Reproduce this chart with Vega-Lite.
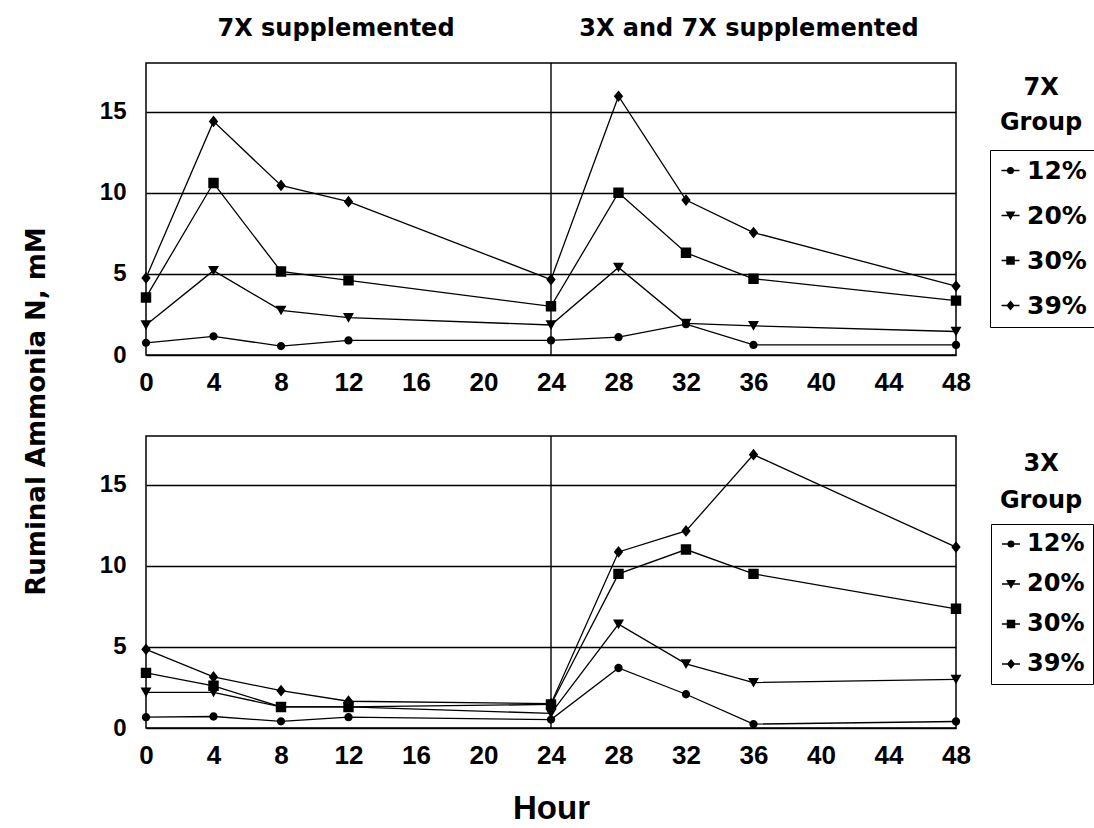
{
  "$schema": "https://vega.github.io/schema/vega-lite/v6.json",
  "background": "white",
  "autosize": {"type": "pad"},
  "padding": {"left": 22, "top": 16, "right": 2, "bottom": 0},
  "bounds": "flush",
  "spacing": 81,
  "config": {
    "font": "DejaVu Sans",
    "view": {"stroke": "black", "strokeWidth": 1.5},
    "axis": {"labelColor": "black", "titleColor": "black", "ticks": false, "tickSize": 0, "domain": false, "labelFont": "Liberation Sans", "labelFontWeight": "bold"},
    "text": {"font": "DejaVu Sans", "fontWeight": "bold", "color": "black"}
  },
  "resolve": {"scale": {"shape": "independent", "color": "independent"}, "legend": {"shape": "independent", "color": "independent"}},
  "datasets": {
    "sevenX": [
      {"hour": 0, "level": "12%", "value": 0.75}, {"hour": 4, "level": "12%", "value": 1.15}, {"hour": 8, "level": "12%", "value": 0.55}, {"hour": 12, "level": "12%", "value": 0.9}, {"hour": 24, "level": "12%", "value": 0.9}, {"hour": 28, "level": "12%", "value": 1.1}, {"hour": 32, "level": "12%", "value": 1.9}, {"hour": 36, "level": "12%", "value": 0.62}, {"hour": 48, "level": "12%", "value": 0.62},
      {"hour": 0, "level": "20%", "value": 1.85}, {"hour": 4, "level": "20%", "value": 5.2}, {"hour": 8, "level": "20%", "value": 2.75}, {"hour": 12, "level": "20%", "value": 2.3}, {"hour": 24, "level": "20%", "value": 1.85}, {"hour": 28, "level": "20%", "value": 5.4}, {"hour": 32, "level": "20%", "value": 1.95}, {"hour": 36, "level": "20%", "value": 1.8}, {"hour": 48, "level": "20%", "value": 1.45},
      {"hour": 0, "level": "30%", "value": 3.55}, {"hour": 4, "level": "30%", "value": 10.6}, {"hour": 8, "level": "30%", "value": 5.15}, {"hour": 12, "level": "30%", "value": 4.6}, {"hour": 24, "level": "30%", "value": 3.0}, {"hour": 28, "level": "30%", "value": 10.0}, {"hour": 32, "level": "30%", "value": 6.3}, {"hour": 36, "level": "30%", "value": 4.7}, {"hour": 48, "level": "30%", "value": 3.35},
      {"hour": 0, "level": "39%", "value": 4.75}, {"hour": 4, "level": "39%", "value": 14.4}, {"hour": 8, "level": "39%", "value": 10.45}, {"hour": 12, "level": "39%", "value": 9.45}, {"hour": 24, "level": "39%", "value": 4.65}, {"hour": 28, "level": "39%", "value": 15.95}, {"hour": 32, "level": "39%", "value": 9.55}, {"hour": 36, "level": "39%", "value": 7.55}, {"hour": 48, "level": "39%", "value": 4.25}
    ],
    "threeX": [
      {"hour": 0, "level": "12%", "value": 0.67}, {"hour": 4, "level": "12%", "value": 0.71}, {"hour": 8, "level": "12%", "value": 0.41}, {"hour": 12, "level": "12%", "value": 0.67}, {"hour": 24, "level": "12%", "value": 0.52}, {"hour": 28, "level": "12%", "value": 3.7}, {"hour": 32, "level": "12%", "value": 2.08}, {"hour": 36, "level": "12%", "value": 0.24}, {"hour": 48, "level": "12%", "value": 0.4},
      {"hour": 0, "level": "20%", "value": 2.2}, {"hour": 4, "level": "20%", "value": 2.2}, {"hour": 8, "level": "20%", "value": 1.3}, {"hour": 12, "level": "20%", "value": 1.3}, {"hour": 24, "level": "20%", "value": 0.9}, {"hour": 28, "level": "20%", "value": 6.4}, {"hour": 32, "level": "20%", "value": 3.95}, {"hour": 36, "level": "20%", "value": 2.8}, {"hour": 48, "level": "20%", "value": 3.0},
      {"hour": 0, "level": "30%", "value": 3.4}, {"hour": 4, "level": "30%", "value": 2.6}, {"hour": 8, "level": "30%", "value": 1.3}, {"hour": 12, "level": "30%", "value": 1.3}, {"hour": 24, "level": "30%", "value": 1.45}, {"hour": 28, "level": "30%", "value": 9.5}, {"hour": 32, "level": "30%", "value": 11.0}, {"hour": 36, "level": "30%", "value": 9.5}, {"hour": 48, "level": "30%", "value": 7.35},
      {"hour": 0, "level": "39%", "value": 4.85}, {"hour": 4, "level": "39%", "value": 3.15}, {"hour": 8, "level": "39%", "value": 2.3}, {"hour": 12, "level": "39%", "value": 1.65}, {"hour": 24, "level": "39%", "value": 1.5}, {"hour": 28, "level": "39%", "value": 10.85}, {"hour": 32, "level": "39%", "value": 12.15}, {"hour": 36, "level": "39%", "value": 16.85}, {"hour": 48, "level": "39%", "value": 11.15}
    ]
  },
  "vconcat": [
    {
      "width": 810,
      "height": 292,
      "layer": [
        {"data": {"values": [{}]}, "mark": {"type": "rule", "color": "black", "strokeWidth": 1.4}, "encoding": {"x": {"datum": 24, "type": "quantitative"}}},
        {
          "data": {"name": "sevenX"},
          "mark": {"type": "line", "strokeWidth": 1.3},
          "encoding": {
            "x": {"field": "hour", "type": "quantitative", "scale": {"domain": [0, 48], "nice": false, "zero": false},
                  "axis": {"values": [0, 4, 8, 12, 16, 20, 24, 28, 32, 36, 40, 44, 48], "grid": false, "title": null, "labelFontSize": 26, "labelPadding": 14, "labelFlush": false}},
            "y": {"field": "value", "type": "quantitative", "scale": {"domain": [0, 18], "nice": false},
                  "axis": {"values": [0, 5, 10, 15], "grid": true, "gridColor": "black", "gridWidth": 1.3, "gridOpacity": 1, "labelFontSize": 24, "labelPadding": 20,
                           "title": "Ruminal Ammonia N, mM", "titleFont": "DejaVu Sans", "titleFontSize": 26, "titleFontWeight": "bold",
                           "titleX": -110, "titleY": 348, "titleAngle": -90, "titleAlign": "center", "titleBaseline": "middle"}},
            "color": {
              "field": "level", "type": "nominal",
              "scale": {"domain": ["12%", "20%", "30%", "39%"], "range": ["black", "black", "black", "black"]},
              "legend": {
                "orient": "none", "legendX": 844, "legendY": 87, "title": null,
                "strokeColor": "black", "padding": 8, "rowPadding": 19,
                "labelFont": "DejaVu Sans", "labelFontWeight": "bold", "labelFontSize": 25, "labelColor": "black", "labelOffset": 4,
                "symbolSize": 324, "symbolStrokeWidth": 1.3, "symbolType": "stroke"
              }
            }
          }
        },
        {
          "data": {"name": "sevenX"},
          "mark": {"type": "point", "filled": true, "color": "black", "size": 680, "opacity": 1, "strokeWidth": 0},
          "encoding": {
            "x": {"field": "hour", "type": "quantitative"},
            "y": {"field": "value", "type": "quantitative"},
            "shape": {
              "field": "level", "type": "nominal",
              "scale": {"domain": ["12%", "20%", "30%", "39%"],
                        "range": ["M-1,0L1,0M0.32,0A0.32,0.32,0,1,1,-0.32,0A0.32,0.32,0,1,1,0.32,0Z",
                                  "M-1,0L1,0M-0.42,-0.36L0.42,-0.36L0,0.38Z",
                                  "M-1,0L1,0M-0.4,-0.4L0.4,-0.4L0.4,0.4L-0.4,0.4Z",
                                  "M-1,0L1,0M0,-0.45L0.36,0L0,0.45L-0.36,0Z"]},
              "legend": {
                "orient": "none", "legendX": 844, "legendY": 87, "title": null,
                "strokeColor": "black", "padding": 8, "rowPadding": 19,
                "labelFont": "DejaVu Sans", "labelFontWeight": "bold", "labelFontSize": 25, "labelColor": "black", "labelOffset": 4,
                "symbolSize": 324, "symbolStrokeColor": "black", "symbolStrokeWidth": 1.3, "symbolFillColor": "black"
              }
            }
          }
        },
        {"data": {"values": [{}]}, "mark": {"type": "text", "fontSize": 24, "baseline": "middle", "align": "center"},
         "encoding": {"x": {"datum": 11.26, "type": "quantitative"}, "y": {"datum": 20.1, "type": "quantitative"}, "text": {"value": "7X supplemented"}}},
        {"data": {"values": [{}]}, "mark": {"type": "text", "fontSize": 24, "baseline": "middle", "align": "center"},
         "encoding": {"x": {"datum": 35.73, "type": "quantitative"}, "y": {"datum": 20.1, "type": "quantitative"}, "text": {"value": "3X and 7X supplemented"}}},
        {"data": {"values": [{}]}, "mark": {"type": "text", "fontSize": 24, "baseline": "middle", "align": "center", "lineHeight": 35},
         "encoding": {"x": {"datum": 53.04, "type": "quantitative"}, "y": {"datum": 16.48, "type": "quantitative"}, "text": {"value": ["7X", "Group"]}}}
      ]
    },
    {
      "width": 810,
      "height": 292,
      "layer": [
        {"data": {"values": [{}]}, "mark": {"type": "rule", "color": "black", "strokeWidth": 1.4}, "encoding": {"x": {"datum": 24, "type": "quantitative"}}},
        {
          "data": {"name": "threeX"},
          "mark": {"type": "line", "strokeWidth": 1.3},
          "encoding": {
            "x": {"field": "hour", "type": "quantitative", "scale": {"domain": [0, 48], "nice": false, "zero": false},
                  "axis": {"values": [0, 4, 8, 12, 16, 20, 24, 28, 32, 36, 40, 44, 48], "grid": false, "labelFontSize": 26, "labelPadding": 14, "labelFlush": false,
                           "title": "Hour", "titleFont": "Liberation Sans", "titleFontSize": 33, "titleFontWeight": "bold", "titlePadding": 24}},
            "y": {"field": "value", "type": "quantitative", "scale": {"domain": [0, 18], "nice": false},
                  "axis": {"values": [0, 5, 10, 15], "grid": true, "gridColor": "black", "gridWidth": 1.3, "gridOpacity": 1, "labelFontSize": 24, "labelPadding": 20, "title": null}},
            "color": {
              "field": "level", "type": "nominal",
              "scale": {"domain": ["12%", "20%", "30%", "39%"], "range": ["black", "black", "black", "black"]},
              "legend": {
                "orient": "none", "legendX": 845, "legendY": 88, "title": null,
                "strokeColor": "black", "padding": 8, "rowPadding": 16,
                "labelFont": "DejaVu Sans", "labelFontWeight": "bold", "labelFontSize": 24, "labelColor": "black", "labelOffset": 4,
                "symbolSize": 324, "symbolStrokeWidth": 1.3, "symbolType": "stroke"
              }
            }
          }
        },
        {
          "data": {"name": "threeX"},
          "mark": {"type": "point", "filled": true, "color": "black", "size": 680, "opacity": 1, "strokeWidth": 0},
          "encoding": {
            "x": {"field": "hour", "type": "quantitative"},
            "y": {"field": "value", "type": "quantitative"},
            "shape": {
              "field": "level", "type": "nominal",
              "scale": {"domain": ["12%", "20%", "30%", "39%"],
                        "range": ["M-1,0L1,0M0.32,0A0.32,0.32,0,1,1,-0.32,0A0.32,0.32,0,1,1,0.32,0Z",
                                  "M-1,0L1,0M-0.42,-0.36L0.42,-0.36L0,0.38Z",
                                  "M-1,0L1,0M-0.4,-0.4L0.4,-0.4L0.4,0.4L-0.4,0.4Z",
                                  "M-1,0L1,0M0,-0.45L0.36,0L0,0.45L-0.36,0Z"]},
              "legend": {
                "orient": "none", "legendX": 845, "legendY": 88, "title": null,
                "strokeColor": "black", "padding": 8, "rowPadding": 16,
                "labelFont": "DejaVu Sans", "labelFontWeight": "bold", "labelFontSize": 24, "labelColor": "black", "labelOffset": 4,
                "symbolSize": 324, "symbolStrokeColor": "black", "symbolStrokeWidth": 1.3, "symbolFillColor": "black"
              }
            }
          }
        },
        {"data": {"values": [{}]}, "mark": {"type": "text", "fontSize": 24, "baseline": "middle", "align": "center", "lineHeight": 37},
         "encoding": {"x": {"datum": 53.04, "type": "quantitative"}, "y": {"datum": 16.3, "type": "quantitative"}, "text": {"value": ["3X", "Group"]}}}
      ]
    }
  ]
}
